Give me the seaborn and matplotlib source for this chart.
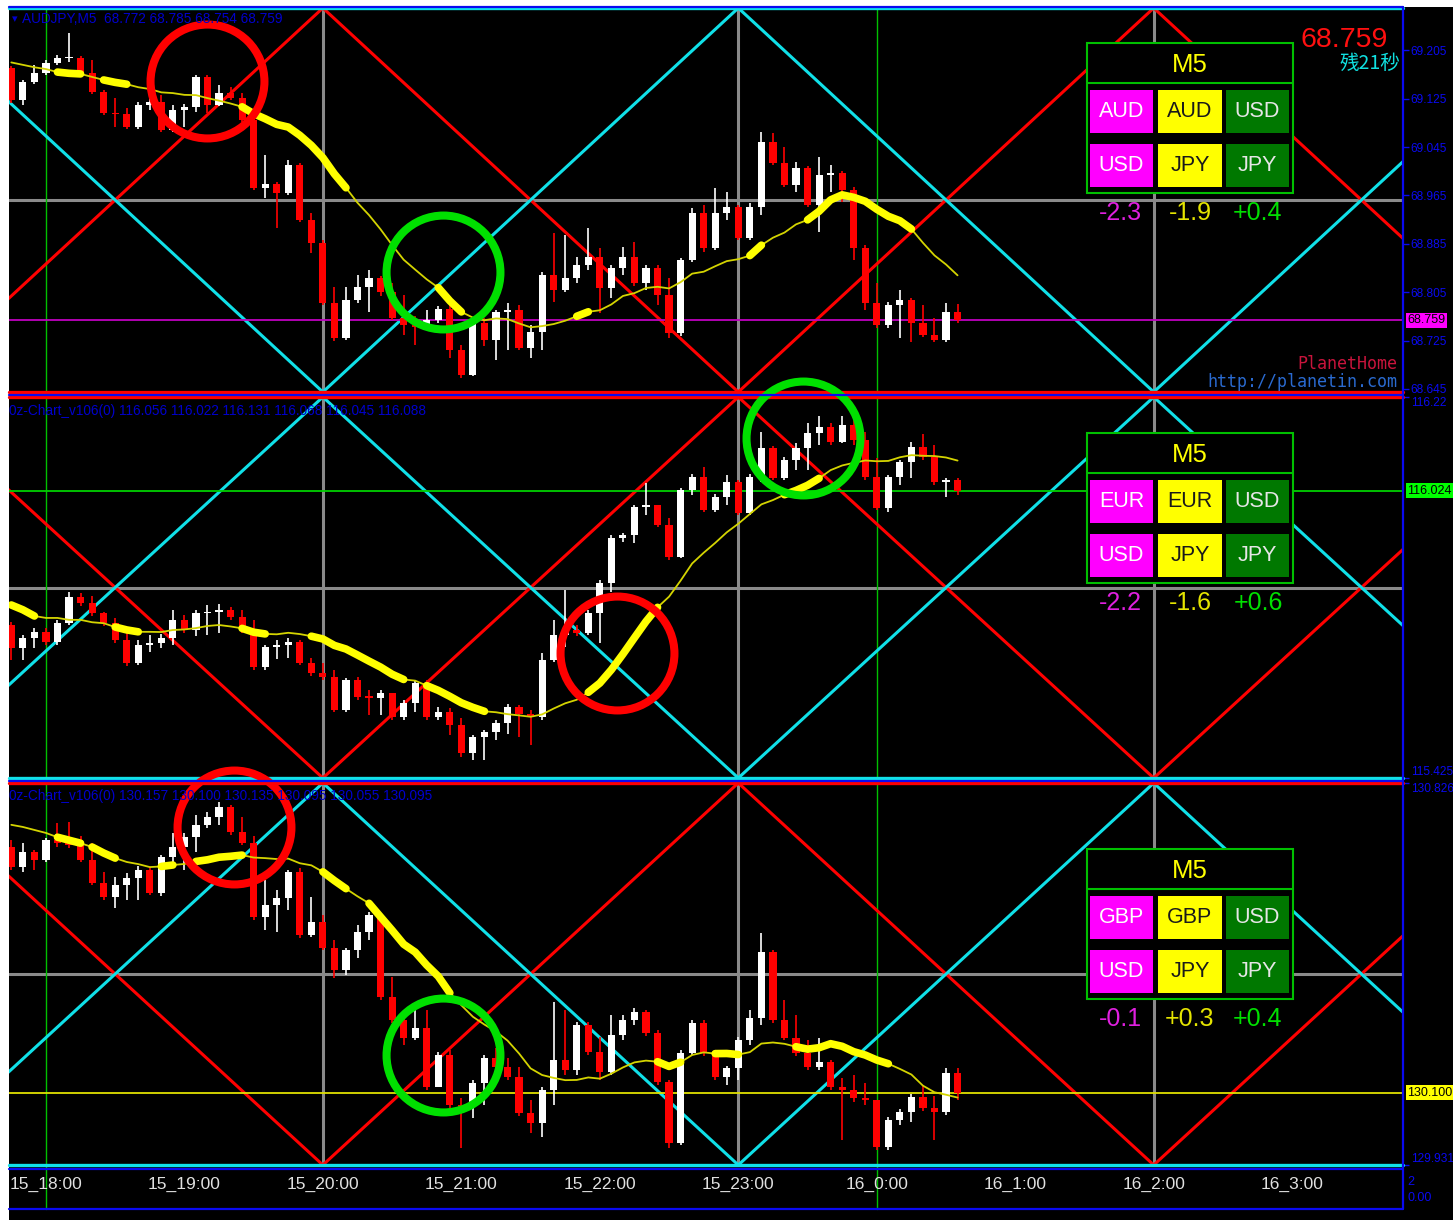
import numpy as np
import pandas as pd
import matplotlib
matplotlib.use("Agg")
import matplotlib.pyplot as plt
import matplotlib.transforms as mtransforms
from matplotlib.patches import Rectangle
from matplotlib.lines import Line2D
import seaborn as sns

# ---------------------------------------------------------------- data
bars = np.arange(-3, 80)                      # 5-minute bars, 0 = 15_18:00
bars_per_hour = 12
hour_labels = ["15_18:00", "15_19:00", "15_20:00", "15_21:00", "15_22:00",
               "15_23:00", "16_0:00", "16_1:00", "16_2:00", "16_3:00"]
x_range = (-3.2, 117.6)

# ---- AUDJPY M5
aud_open0 = 69.175
aud_close = [69.123, 69.152, 69.167, 69.184, 69.192, 69.192, 69.167, 69.136, 69.101, 69.099,
             69.078, 69.114, 69.119, 69.073, 69.106, 69.111, 69.161, 69.114, 69.134, 69.126,
             69.090, 68.977, 68.984, 68.969, 69.015, 68.924, 68.886, 68.787, 68.729, 68.792,
             68.814, 68.828, 68.805, 68.762, 68.751, 68.747, 68.759, 68.777, 68.709, 68.668,
             68.754, 68.726, 68.772, 68.776, 68.713, 68.739, 68.833, 68.809, 68.828, 68.850,
             68.863, 68.812, 68.845, 68.863, 68.820, 68.845, 68.800, 68.738, 68.858, 68.936,
             68.878, 68.936, 68.946, 68.895, 68.946, 69.053, 69.018, 68.982, 69.010, 68.949,
             68.999, 69.002, 68.974, 68.878, 68.787, 68.751, 68.784, 68.792, 68.754, 68.734,
             68.726, 68.772, 68.759]
aud_high = [69.179, 69.156, 69.181, 69.189, 69.197, 69.233, 69.195, 69.189, 69.139, 69.126,
            69.109, 69.119, 69.126, 69.131, 69.114, 69.116, 69.164, 69.164, 69.147, 69.144,
            69.134, 69.095, 69.032, 68.987, 69.024, 69.019, 68.936, 68.891, 68.814, 68.814,
            68.833, 68.842, 68.832, 68.820, 68.800, 68.766, 68.776, 68.782, 68.792, 68.718,
            68.759, 68.762, 68.776, 68.787, 68.784, 68.751, 68.838, 68.903, 68.900, 68.863,
            68.911, 68.878, 68.850, 68.880, 68.888, 68.850, 68.850, 68.828, 68.861, 68.944,
            68.949, 68.977, 68.971, 68.949, 68.952, 69.070, 69.068, 69.045, 69.020, 69.014,
            69.028, 69.015, 69.005, 68.979, 68.883, 68.820, 68.789, 68.809, 68.795, 68.784,
            68.762, 68.787, 68.785]
aud_low = [69.118, 69.114, 69.149, 69.164, 69.181, 69.186, 69.164, 69.133, 69.098, 69.078,
           69.075, 69.075, 69.106, 69.070, 69.070, 69.078, 69.103, 69.101, 69.113, 69.123,
           69.086, 68.974, 68.961, 68.911, 68.966, 68.921, 68.870, 68.784, 68.724, 68.726,
           68.787, 68.772, 68.799, 68.759, 68.734, 68.718, 68.743, 68.754, 68.696, 68.663,
           68.666, 68.716, 68.693, 68.709, 68.709, 68.696, 68.709, 68.789, 68.805, 68.820,
           68.842, 68.771, 68.795, 68.833, 68.815, 68.809, 68.784, 68.729, 68.733, 68.855,
           68.871, 68.875, 68.924, 68.891, 68.891, 68.933, 69.015, 68.979, 68.971, 68.946,
           68.905, 68.971, 68.954, 68.858, 68.776, 68.746, 68.746, 68.729, 68.723, 68.731,
           68.723, 68.723, 68.754]
aud_ma_head = [69.185, 69.181, 69.177, 69.174, 69.169, 69.167, 69.166, 69.161, 69.156,
               69.152, 69.149, 69.144, 69.141]
aud_thick = [(1, 3), (5, 7), (17, 26), (34, 36), (46, 47), (61, 62), (66, 75)]

# ---- EURJPY (sub window 1)
eur_open0 = 115.744
eur_close = [115.696, 115.717, 115.730, 115.709, 115.748, 115.803, 115.790, 115.769, 115.748, 115.713,
             115.665, 115.702, 115.707, 115.717, 115.755, 115.734, 115.769, 115.771, 115.776, 115.761,
             115.734, 115.657, 115.698, 115.702, 115.709, 115.665, 115.644, 115.636, 115.567, 115.629,
             115.594, 115.592, 115.602, 115.552, 115.581, 115.623, 115.552, 115.563, 115.535, 115.477,
             115.510, 115.521, 115.540, 115.573, 115.558, 115.552, 115.671, 115.723, 115.734, 115.727,
             115.769, 115.832, 115.926, 115.932, 115.990, 115.995, 115.953, 115.886, 116.026, 116.053,
             115.984, 116.011, 116.043, 115.978, 116.053, 116.114, 116.051, 116.089, 116.114, 116.145,
             116.157, 116.126, 116.162, 116.130, 116.053, 115.988, 116.053, 116.084, 116.116, 116.095,
             116.043, 116.047, 116.024]
eur_high = [115.750, 115.723, 115.738, 115.738, 115.755, 115.813, 115.811, 115.805, 115.771, 115.759,
            115.727, 115.713, 115.723, 115.725, 115.776, 115.765, 115.776, 115.786, 115.788, 115.782,
            115.776, 115.755, 115.702, 115.713, 115.717, 115.713, 115.675, 115.665, 115.650, 115.634,
            115.636, 115.609, 115.609, 115.598, 115.588, 115.629, 115.629, 115.573, 115.571, 115.550,
            115.515, 115.525, 115.546, 115.579, 115.577, 115.567, 115.686, 115.755, 115.817, 115.744,
            115.776, 115.838, 115.932, 115.936, 115.995, 116.041, 115.995, 115.967, 116.030, 116.059,
            116.074, 116.018, 116.057, 116.047, 116.059, 116.147, 116.118, 116.095, 116.124, 116.166,
            116.180, 116.166, 116.180, 116.172, 116.147, 116.093, 116.057, 116.089, 116.126, 116.143,
            116.120, 116.051, 116.051]
eur_low = [115.671, 115.671, 115.696, 115.702, 115.702, 115.744, 115.784, 115.763, 115.742, 115.707,
           115.659, 115.661, 115.688, 115.696, 115.702, 115.727, 115.721, 115.723, 115.727, 115.755,
           115.727, 115.650, 115.650, 115.673, 115.675, 115.661, 115.638, 115.629, 115.563, 115.563,
           115.588, 115.556, 115.556, 115.546, 115.546, 115.563, 115.546, 115.546, 115.515, 115.469,
           115.462, 115.462, 115.504, 115.517, 115.510, 115.494, 115.546, 115.667, 115.698, 115.721,
           115.723, 115.707, 115.813, 115.917, 115.915, 115.974, 115.949, 115.880, 115.884, 116.015,
           115.980, 115.980, 115.995, 115.974, 115.974, 116.043, 116.047, 116.047, 116.068, 116.068,
           116.120, 116.120, 116.124, 116.120, 116.047, 115.984, 115.980, 116.036, 116.051, 116.089,
           116.036, 116.011, 116.015]
eur_ma_head = [115.786, 115.776, 115.763, 115.759, 115.759, 115.755, 115.755, 115.750,
               115.748, 115.740, 115.734, 115.730, 115.730]
eur_thick = [(-3, -1), (6, 8), (17, 19), (23, 31), (33, 38), (47, 53), (64, 67)]
eur_indicator = [116.056, 116.022, 116.131, 116.068, 116.045, 116.088]

# ---- GBPJPY (sub window 2)
gbp_open0 = 130.676
gbp_close = [130.629, 130.664, 130.646, 130.692, 130.685, 130.681, 130.646, 130.592, 130.559, 130.587,
             130.603, 130.622, 130.568, 130.653, 130.676, 130.699, 130.728, 130.746, 130.770, 130.711,
             130.685, 130.512, 130.540, 130.557, 130.617, 130.470, 130.500, 130.439, 130.388, 130.435,
             130.477, 130.517, 130.325, 130.271, 130.228, 130.252, 130.114, 130.189, 130.072, 130.067,
             130.123, 130.182, 130.161, 130.137, 130.053, 130.029, 130.107, 130.177, 130.154, 130.259,
             130.196, 130.149, 130.236, 130.271, 130.289, 130.240, 130.125, 129.982, 130.193, 130.264,
             130.193, 130.137, 130.158, 130.224, 130.275, 130.430, 130.271, 130.228, 130.193, 130.161,
             130.172, 130.114, 130.107, 130.088, 130.083, 129.973, 130.036, 130.055, 130.090, 130.065,
             130.055, 130.147, 130.100]
gbp_high = [130.692, 130.685, 130.669, 130.697, 130.732, 130.735, 130.702, 130.685, 130.617, 130.606,
            130.615, 130.632, 130.627, 130.657, 130.709, 130.709, 130.751, 130.758, 130.782, 130.774,
            130.746, 130.702, 130.599, 130.575, 130.622, 130.627, 130.559, 130.517, 130.458, 130.439,
            130.493, 130.524, 130.521, 130.371, 130.275, 130.294, 130.294, 130.196, 130.200, 130.088,
            130.130, 130.189, 130.205, 130.182, 130.161, 130.083, 130.114, 130.313, 130.294, 130.266,
            130.266, 130.231, 130.282, 130.282, 130.299, 130.294, 130.247, 130.130, 130.200, 130.271,
            130.271, 130.200, 130.163, 130.231, 130.294, 130.475, 130.435, 130.318, 130.282, 130.224,
            130.228, 130.177, 130.135, 130.142, 130.123, 130.083, 130.043, 130.062, 130.097, 130.118,
            130.093, 130.158, 130.158]
gbp_low = [130.622, 130.617, 130.622, 130.641, 130.676, 130.674, 130.641, 130.587, 130.552, 130.533,
           130.552, 130.552, 130.564, 130.561, 130.634, 130.622, 130.664, 130.721, 130.728, 130.704,
           130.681, 130.505, 130.482, 130.477, 130.528, 130.463, 130.465, 130.435, 130.369, 130.376,
           130.416, 130.458, 130.318, 130.264, 130.212, 130.224, 130.107, 130.114, 130.065, 129.971,
           130.041, 130.072, 130.154, 130.130, 130.046, 130.006, 129.997, 130.072, 130.142, 130.142,
           130.189, 130.130, 130.142, 130.224, 130.259, 130.233, 130.118, 129.971, 129.978, 130.189,
           130.186, 130.130, 130.118, 130.130, 130.212, 130.259, 130.264, 130.224, 130.186, 130.154,
           130.154, 130.107, 129.990, 130.079, 130.072, 129.966, 129.966, 130.025, 130.032, 130.057,
           129.990, 130.048, 130.083]
gbp_ma_head = [130.728, 130.723, 130.716, 130.709, 130.699, 130.692, 130.685, 130.676,
               130.662, 130.650, 130.641, 130.636, 130.629]
gbp_thick = [(1, 3), (4, 6), (10, 11), (13, 17), (24, 26), (28, 35), (53, 55), (58, 60), (65, 73)]
gbp_indicator = [130.157, 130.100, 130.135, 130.095, 130.055, 130.095]

# zig-zag guide lines: vertex bars, level 0 = bottom of window, 1 = top
zigzag_bars = [-12, 24, 60, 96, 132]
grid_bars_gray = [24, 60, 96]
grid_bars_green = [0, 72]

# currency-strength tables
table_m5 = "M5"
aud_table = [["AUD", "AUD", "USD"], ["USD", "JPY", "JPY"]]
eur_table = [["EUR", "EUR", "USD"], ["USD", "JPY", "JPY"]]
gbp_table = [["GBP", "GBP", "USD"], ["USD", "JPY", "JPY"]]
aud_strength = [-2.3, -1.9, 0.4]
eur_strength = [-2.2, -1.6, 0.6]
gbp_strength = [-0.1, 0.3, 0.4]

panels = [
    dict(open0=aud_open0, close=aud_close, high=aud_high, low=aud_low, head=aud_ma_head,
         thick=aud_thick, ylim=(68.640, 69.275),
         yticks=[69.205, 69.125, 69.045, 68.965, 68.885, 68.805, 68.725, 68.645],
         ylabels=["69.205", "69.125", "69.045", "68.965", "68.885", "68.805", "68.725", "68.645"],
         edge=True, red_lv=[0, 1, 0, 1, 0], cyan_lv=[1, 0, 1, 0, 1],
         top_col="#10e0e8", bot_col="#ff0000",
         pline="#c000c0", pbox="#ff00ff",
         circles=[("#ff0000", 14.0, 69.154), ("#00e000", 34.4, 68.838)],
         table=aud_table, strength=aud_strength, px=(8, 392), ttop=43),
    dict(open0=eur_open0, close=eur_close, high=eur_high, low=eur_low, head=eur_ma_head,
         thick=eur_thick, ylim=(115.425, 116.220),
         yticks=[116.220, 115.425], ylabels=["116.22", "115.425"],
         edge=False, red_lv=[1, 0, 1, 0, 1], cyan_lv=[0, 1, 0, 1, 0],
         top_col="#ff0000", bot_col="#10e0e8",
         pline="#00d000", pbox="#00ff00",
         circles=[("#00e000", 65.6, 116.134), ("#ff0000", 49.5, 115.686)],
         table=eur_table, strength=eur_strength, px=(397, 778), ttop=433),
    dict(open0=gbp_open0, close=gbp_close, high=gbp_high, low=gbp_low, head=gbp_ma_head,
         thick=gbp_thick, ylim=(129.931, 130.826),
         yticks=[130.826, 129.931], ylabels=["130.826", "129.931"],
         edge=False, red_lv=[1, 0, 1, 0, 1], cyan_lv=[0, 1, 0, 1, 0],
         top_col="#ff0000", bot_col="#10e0e8",
         pline="#e0e000", pbox="#ffff00",
         circles=[("#ff0000", 16.3, 130.723), ("#00e000", 34.4, 130.189)],
         table=gbp_table, strength=gbp_strength, px=(783, 1165), ttop=849),
]

# ---------------------------------------------------------------- style
sns.set_theme(style="dark")
plt.rcParams['font.family'] = ['Liberation Sans', 'DejaVu Sans', 'Noto Sans CJK JP']

W, H = 1453, 1220
fig = plt.figure(figsize=(W / 100, H / 100), dpi=100, facecolor="white")


def fx(p):
    return p / W


def fy(p):
    return 1 - p / H


BLUE = "#0a0af0"
RED = "#ff0000"
CYAN = "#10e0e8"
GRAY = "#8a8a8a"
GREEN_V = "#00c000"

fig.add_artist(Rectangle((fx(9), 0), 1 - fx(9), fy(7), transform=fig.transFigure,
                         facecolor="black", edgecolor="none", zorder=-10))

axes = []
for P in panels:
    top, bot = P["px"]
    ax = fig.add_axes([fx(9), fy(bot), fx(1403) - fx(9), (bot - top) / H])
    axes.append(ax)
    ax.set_facecolor("black")
    ax.grid(False)
    for s in ax.spines.values():
        s.set_visible(False)
    ax.set_xlim(*x_range)
    ax.set_ylim(*P["ylim"])

    close = np.array(P["close"])
    high = np.array(P["high"])
    low = np.array(P["low"])
    opn = np.r_[P["open0"], close[:-1]]
    high = np.maximum(high, np.maximum(opn, close))
    low = np.minimum(low, np.minimum(opn, close))

    # grid
    ax.axhline(np.mean(P["ylim"]), color=GRAY, lw=2.2, zorder=1)
    for b in grid_bars_gray:
        ax.axvline(b, color=GRAY, lw=2.2, zorder=1)
    for b in grid_bars_green:
        ax.axvline(b, color=GREEN_V, lw=1.0, zorder=1)

    # zigzag lines
    yt = ax.get_xaxis_transform()
    ax.plot(zigzag_bars, P["red_lv"], color=RED, lw=2.2, transform=yt, zorder=2)
    ax.plot(zigzag_bars, P["cyan_lv"], color=CYAN, lw=2.2, transform=yt, zorder=2)
    ax.axhline(P["ylim"][1], color=P["top_col"], lw=2.4, clip_on=False, zorder=3)
    ax.axhline(P["ylim"][0], color=P["bot_col"], lw=2.4, clip_on=False, zorder=3)

    # price line
    ax.axhline(close[-1], color=P["pline"], lw=1.3, zorder=3)

    # candles
    up = close >= opn
    cols = np.where(up, "#ffffff", "#ff0000")
    rng = P["ylim"][1] - P["ylim"][0]
    min_h = rng / (bot - top) * 1.6
    ax.vlines(bars, low, high, colors=cols, lw=1.2, zorder=4)
    ax.bar(bars, np.maximum(np.abs(close - opn), min_h), bottom=np.minimum(opn, close),
           width=0.62, color=cols, linewidth=0, zorder=5)

    # moving average (SMA 14) with thick highlighted stretches
    ma = pd.Series(close).rolling(14).mean().to_numpy()
    ma[:len(P["head"])] = P["head"]
    df = pd.DataFrame({"bar": bars, "ma": ma})
    sns.lineplot(data=df, x="bar", y="ma", ax=ax, color="#d4d400", lw=1.3, zorder=6)
    for s, e in P["thick"]:
        seg = df[(df.bar >= s) & (df.bar <= e)]
        sns.lineplot(data=seg, x="bar", y="ma", ax=ax, color="#ffff00", lw=5.5,
                     solid_capstyle="round", zorder=7)
    ax.set_xlabel("")
    ax.set_ylabel("")

    # circles
    for col, cx, cy in P["circles"]:
        ax.plot([cx], [cy], marker="o", ms=82, mfc="none", mec=col, mew=5.8,
                clip_on=False, zorder=12)

    # y axis on the right
    ax.set_xticks([])
    ax.yaxis.tick_right()
    ax.set_yticks(P["yticks"])
    ax.set_yticklabels(P["ylabels"])
    ax.tick_params(axis="y", colors=BLUE, length=4, width=1, pad=1.5, labelsize=8.6,
                   direction="out")
    if not P["edge"]:
        tl = ax.get_yticklabels()
        tl[0].set_va("top")
        tl[1].set_va("bottom")

    # current price box
    bt = mtransforms.blended_transform_factory(ax.transAxes, ax.transData)
    ax.text(1.003, close[-1], f"{close[-1]:.3f}", transform=bt, ha="left", va="center",
            fontsize=9, color="black", clip_on=False, zorder=20,
            bbox=dict(boxstyle="square,pad=0.12", fc=P["pbox"], ec="none"))

    # strength table
    t0 = P["ttop"]
    fig.add_artist(Rectangle((fx(1087), fy(t0 + 150)), fx(1293) - fx(1087), 150 / H,
                             transform=fig.transFigure, facecolor="black",
                             edgecolor="#00c000", lw=1.5, zorder=30))
    fig.add_artist(Line2D([fx(1087), fx(1293)], [fy(t0 + 40), fy(t0 + 40)],
                          transform=fig.transFigure, color="#00c000", lw=1.5, zorder=31))
    fig.text(fx(1190), fy(t0 + 22), table_m5, color="#ffff00", fontsize=18.5,
             ha="center", va="center", zorder=32)
    cell_x = [(1090, 1153), (1158, 1222), (1226, 1289)]
    cell_fc = ["#ff00ff", "#ffff00", "#007800"]
    cell_tc = ["#ffffff", "#1a1a1a", "#e6e6e6"]
    rows_y = [(t0 + 47, t0 + 90), (t0 + 101, t0 + 144)]
    for r, (y0, y1) in enumerate(rows_y):
        for c, (x0, x1) in enumerate(cell_x):
            fig.add_artist(Rectangle((fx(x0), fy(y1)), fx(x1) - fx(x0), (y1 - y0) / H,
                                     transform=fig.transFigure, facecolor=cell_fc[c],
                                     edgecolor="none", zorder=31))
            fig.text(fx((x0 + x1) / 2), fy((y0 + y1) / 2), P["table"][r][c],
                     color=cell_tc[c], fontsize=15.5, ha="center", va="center", zorder=32)
    num_cols = ["#e020e0", "#e4e400", "#00e000"]
    for c, (xc, v) in enumerate(zip([1120, 1190, 1258], P["strength"])):
        fig.text(fx(xc), fy(t0 + 170), f"{v:+.1f}", color=num_cols[c], fontsize=18,
                 ha="center", va="center", zorder=32)

ax1, ax2, ax3 = axes

# headers
last_o = aud_close[-2]
fig.text(fx(12), fy(19), "▾", color="#0000cc", fontsize=8, ha="left", va="center",
         family=["DejaVu Sans"])
fig.text(fx(22), fy(19),
         f"AUDJPY,M5  {last_o:.3f} {aud_high[-1]:.3f} {aud_low[-1]:.3f} {aud_close[-1]:.3f}",
         color="#0000cc", fontsize=9.8, ha="left", va="center")
fig.text(fx(9), fy(411), "0z-Chart_v106(0) " + " ".join(f"{v:.3f}" for v in eur_indicator),
         color="#0000cc", fontsize=9.8, ha="left", va="center")
fig.text(fx(9), fy(796), "0z-Chart_v106(0) " + " ".join(f"{v:.3f}" for v in gbp_indicator),
         color="#0000cc", fontsize=9.8, ha="left", va="center")

# top-right price & timer
fig.text(fx(1388), fy(40), f"{aud_close[-1]:.3f}", color="#ff1010", fontsize=20.5,
         ha="right", va="center", zorder=32)
fig.text(fx(1400), fy(63), "残21秒", color="#10e0e0", fontsize=14, ha="right", va="center",
         family=["Noto Sans CJK JP", "DejaVu Sans"], zorder=32)
fig.text(fx(1397), fy(364), "PlanetHome", color="#c8143c", fontsize=12, ha="right",
         va="center", family=["DejaVu Sans Mono"], zorder=32)
fig.text(fx(1397), fy(382), "http://planetin.com", color="#2a6ad0", fontsize=12, ha="right",
         va="center", family=["DejaVu Sans Mono"], zorder=32)

# green vertical lines through gaps and time strip
vt = mtransforms.blended_transform_factory(ax3.transData, fig.transFigure)
for b in grid_bars_green:
    fig.add_artist(Line2D([b, b], [fy(9), fy(1209)], transform=vt, color=GREEN_V, lw=1.0,
                          zorder=-5))

# time labels
for k, lab in enumerate(hour_labels):
    fig.text(k * bars_per_hour, fy(1184), lab, transform=vt, color="#e0e0e0",
             fontsize=12.5, ha="center", va="center")
fig.text(fx(1407), fy(1182), "2", color=BLUE, fontsize=9, ha="left", va="center")
fig.text(fx(1407), fy(1198), "0.00", color=BLUE, fontsize=9, ha="left", va="center")

# window separators
for yy in [7, 395, 781, 1169, 1209]:
    fig.add_artist(Line2D([fx(9), fx(1403)], [fy(yy), fy(yy)], transform=fig.transFigure,
                          color=BLUE, lw=1.6, zorder=8))
fig.add_artist(Line2D([fx(1403), fx(1403)], [fy(7), fy(1209)], transform=fig.transFigure,
                      color=BLUE, lw=1.6, zorder=8))

fig.savefig("out.png", dpi=100, facecolor="white")
